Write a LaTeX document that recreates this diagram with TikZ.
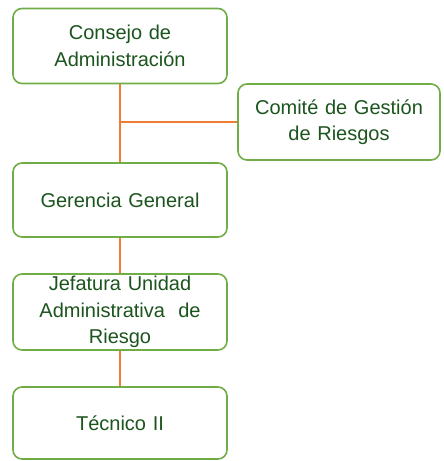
\documentclass[tikz,border=0pt]{standalone}
\usepackage{fontspec}
\setmainfont{Liberation Sans}
\definecolor{boxgreen}{RGB}{112,173,71}
\definecolor{textgreen}{RGB}{28,84,30}
\definecolor{linkorange}{RGB}{237,125,49}
\tikzset{
  orgbox/.style={draw=boxgreen, line width=1.6pt, fill=white, rounded corners=9pt,
    minimum width=214pt, minimum height=75pt, inner sep=0pt, text width=210pt,
    align=center, text=textgreen, font=\fontsize{20}{26.5}\selectfont},
  orglink/.style={draw=linkorange, line width=1.3pt}
}
\begin{document}
\begin{tikzpicture}[x=1pt,y=-1pt]
\useasboundingbox (0,0) rectangle (444,461);
\node[orgbox] (consejo) at (120,46){Consejo de\\Administración};
\node[orgbox, minimum width=202pt, minimum height=76pt, text width=200pt] (comite) at (339,122){Comité de Gestión\\de Riesgos};
\node[orgbox, minimum height=74pt] (gerencia) at (120,200){Gerencia General};
\node[orgbox, minimum height=76pt] (jefatura) at (120,312){Jefatura Unidad\\Administrativa\ \ de\\Riesgo};
\node[orgbox, minimum height=72pt] (tecnico) at (120,423){Técnico II};
\coordinate (junc) at (120,122);
\draw[orglink](consejo) -- (gerencia);
\draw[orglink](junc) -- (comite);
\draw[orglink](gerencia) -- (jefatura);
\draw[orglink](jefatura) -- (tecnico);
\end{tikzpicture}
\end{document}
